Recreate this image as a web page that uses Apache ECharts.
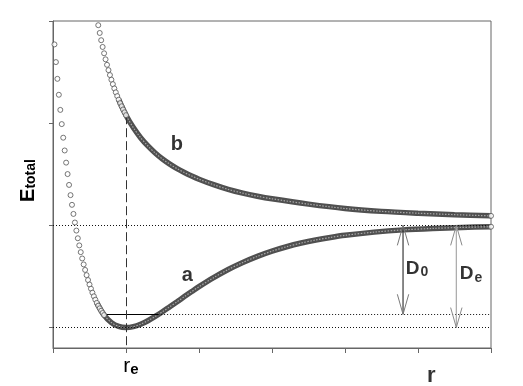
<!DOCTYPE html>
<html><head><meta charset="utf-8">
<script src="https://cdn.jsdelivr.net/npm/echarts@6/dist/echarts.min.js"></script>
<style>html,body{margin:0;padding:0;background:#fff}#c{width:523px;height:386px}</style>
</head><body><div id="c"></div>
<script>
// ---- data (x: r in tick units, y: energy, min = 0, De = 1) ----
const xTicks = [0, 1, 2, 3, 4, 5, 6];
const yTicks = [0, 1, 2, 3];

// curve a (bound state) – separated markers on the steep inner wall
const aRingR = [0.02,0.04,0.06,0.08,0.10,0.12,0.14,0.16,0.18,0.20,0.22,0.24,0.26,0.28,0.30,0.32,0.34,0.36,0.38,0.40,0.42,0.44,0.46,0.48,0.50,0.52,0.54,0.56,0.58,0.60,0.62,0.64,0.66,0.68,0.70,6.00];
const aRingV = [2.771,2.598,2.434,2.278,2.130,1.991,1.858,1.733,1.614,1.502,1.396,1.296,1.201,1.112,1.028,0.949,0.874,0.804,0.738,0.676,0.618,0.564,0.513,0.465,0.421,0.380,0.341,0.306,0.273,0.242,0.214,0.188,0.164,0.142,0.122,0.987];
// curve a – dense part
const aBandR = [0.60,0.70,0.80,0.90,1.00,1.10,1.20,1.30,1.40,1.50,1.60,1.70,1.80,1.90,2.00,2.20,2.40,2.60,2.80,3.00,3.20,3.40,3.60,3.80,4.00,4.40,4.80,5.20,5.60,6.00];
const aBandV = [0.242,0.122,0.049,0.011,0.000,0.009,0.033,0.067,0.109,0.155,0.204,0.253,0.303,0.352,0.400,0.488,0.568,0.637,0.697,0.748,0.791,0.827,0.857,0.882,0.903,0.934,0.956,0.970,0.980,0.987];

// curve b (repulsive state)
const bRingR = [0.62,0.64,0.66,0.68,0.70,0.72,0.74,0.76,0.78,0.80,0.82,0.84,0.86,0.88,0.90,0.92,0.94,0.96,0.98,1.00,6.00];
const bRingV = [2.959,2.883,2.812,2.746,2.684,2.625,2.571,2.519,2.471,2.425,2.382,2.340,2.302,2.265,2.230,2.196,2.165,2.134,2.106,2.078,1.093];
const bBandR = [0.90,1.00,1.10,1.20,1.30,1.40,1.50,1.60,1.70,1.80,1.90,2.00,2.20,2.40,2.60,2.80,3.00,3.50,4.00,4.50,5.00,5.50,6.00];
const bBandV = [2.230,2.078,1.957,1.858,1.777,1.708,1.649,1.599,1.555,1.517,1.483,1.452,1.398,1.352,1.315,1.285,1.260,1.208,1.165,1.137,1.119,1.105,1.093];

// levels
const De = 1.0;          // dissociation limit
const E0 = 0.13;         // zero-point level
const re = 1;            // equilibrium distance
const groundL = 0.71, groundR = 1.44;   // where the zero-point level meets curve a
const bAtRe = 2.078;

// arrows: [x, top, bottom]
const arrowX = [4.795, 5.525];
const arrowTop = [De, De];
const arrowBottom = [E0, 0];

// annotation texts and anchors (top-left of each text, in data units)
const noteText = ['a', 'b', '{D|D}{s|0}', '{D|D}{s|e}', '{R|r}'];
const noteR = [1.77, 1.62, 4.84, 5.58, 5.13];
const noteV = [0.60, 1.88, 0.66, 0.61, -0.37];

const FONT = 'Liberation Sans, Arial, sans-serif';
const zip = (xs, ys) => xs.map((x, i) => [x, ys[i]]);

const chart = echarts.init(document.getElementById('c'), null, {renderer: 'canvas'});

const ringStyle = {color: '#fff', borderColor: '#555', borderWidth: 1};
const bandSeries = (name, data) => [
  {type: 'line', name, data, smooth: 0.3, symbol: 'none', z: 3,
   lineStyle: {color: '#505050', width: 5.5}, silent: true},
  {type: 'line', name: name + 'c', data, smooth: 0.3, symbol: 'none', z: 4,
   lineStyle: {color: '#a8a8a8', width: 1.2, type: [1.5, 1.5]}, silent: true}
];

const subRich = {
  D: {fontSize: 19, fontWeight: 'bold', fontFamily: FONT, color: '#000', lineHeight: 20, verticalAlign: 'top'},
  s: {fontSize: 14, fontWeight: 'bold', fontFamily: FONT, color: '#000', lineHeight: 14, padding: [12, 0, 0, 1], verticalAlign: 'bottom'},
  R: {fontSize: 22, fontFamily: FONT, color: '#000', lineHeight: 22}
};

const dotted = {color: '#111', width: 1, type: [1, 2]};

const option = {
  animation: false,
  backgroundColor: '#fff',
  grid: {left: 53, right: 32, top: 21, bottom: 38, show: true, borderColor: '#666', borderWidth: 1, backgroundColor: 'transparent'},
  xAxis: {
    type: 'value', min: 0, max: 6, interval: 1,
    axisLine: {show: true, onZero: false, lineStyle: {color: '#666', width: 1}},
    axisTick: {show: true, inside: false, length: 5, lineStyle: {color: '#666'}},
    splitLine: {show: false},
    axisLabel: {
      show: true, margin: 8,
      formatter: v => v === re ? '{r|r}{e|e}' : '',
      rich: {
        r: {fontSize: 21, fontFamily: FONT, color: '#000', lineHeight: 21, verticalAlign: 'top', padding: [0, 0, 0, 10]},
        e: {fontSize: 15, fontWeight: 'bold', fontFamily: FONT, color: '#000', lineHeight: 15, padding: [11, 0, 0, 0], verticalAlign: 'bottom'}
      }
    }
  },
  yAxis: {
    type: 'value', min: -0.2, max: 3.0,
    axisLine: {show: true, onZero: false, lineStyle: {color: '#666', width: 1}},
    axisTick: {show: true, inside: false, length: 4, customValues: yTicks, lineStyle: {color: '#666'}},
    axisLabel: {show: false},
    splitLine: {show: false},
    name: '{E|E}{t|total}', nameLocation: 'middle', nameRotate: 90, nameGap: 15,
    nameTextStyle: {
      padding: [0, 0, 0, 8],
      rich: {
        E: {fontSize: 20, fontWeight: 'bold', fontFamily: FONT, color: '#000', lineHeight: 20, verticalAlign: 'top'},
        t: {fontSize: 14, fontWeight: 'bold', fontFamily: FONT, color: '#000', lineHeight: 14, padding: [10, 0, 0, 0], verticalAlign: 'bottom'}
      }
    }
  },
  series: [
    ...bandSeries('a', zip(aBandR, aBandV)),
    ...bandSeries('b', zip(bBandR, bBandV)),
    {type: 'scatter', name: 'aRings', data: zip(aRingR, aRingV), symbol: 'circle', symbolSize: 5, itemStyle: ringStyle, z: 5, silent: true, clip: false},
    {type: 'scatter', name: 'bRings', data: zip(bRingR, bRingV), symbol: 'circle', symbolSize: 5, itemStyle: ringStyle, z: 5, silent: true, clip: false},
    {
      type: 'custom', name: 'arrows', z: 6, silent: true,
      data: arrowX.map((x, i) => [x, arrowTop[i], arrowBottom[i]]),
      renderItem: (params, api) => {
        const x = api.value(0);
        const p1 = api.coord([x, api.value(1)]);
        const p2 = api.coord([x, api.value(2)]);
        const shaft = params.dataIndex === 0 ? '#3a3a3a' : '#a8a8a8';
        const head = params.dataIndex === 0 ? '#7a7a7a' : '#8a8a8a';
        const hl = 20, hw = 5.7;
        return {type: 'group', children: [
          {type: 'line', shape: {x1: p1[0], y1: p1[1], x2: p2[0], y2: p2[1]}, style: {stroke: shaft, lineWidth: 1.2}},
          {type: 'polyline', shape: {points: [[p1[0] - hw, p1[1] + hl], [p1[0], p1[1]], [p1[0] + hw, p1[1] + hl]]}, style: {stroke: head, lineWidth: 1, fill: null}},
          {type: 'polyline', shape: {points: [[p2[0] - hw, p2[1] - hl], [p2[0], p2[1]], [p2[0] + hw, p2[1] - hl]]}, style: {stroke: head, lineWidth: 1, fill: null}}
        ]};
      },
      markLine: {
        silent: true, symbol: ['none', 'none'], label: {show: false}, animation: false,
        lineStyle: dotted,
        data: [
          [{coord: [0, De], lineStyle: dotted}, {coord: [6, De]}],
          [{coord: [0, 0], lineStyle: dotted}, {coord: [6, 0]}],
          [{coord: [groundR, E0], lineStyle: dotted}, {coord: [6, E0]}],
          [{coord: [groundL, E0], lineStyle: {type: 'solid', color: '#000', width: 1}}, {coord: [groundR, E0]}],
          [{coord: [re, bAtRe], lineStyle: {type: [9, 4], color: '#333', width: 1}}, {coord: [re, -0.2]}]
        ]
      }
    },
    {
      type: 'scatter', name: 'notes', symbol: 'circle', symbolSize: 1, z: 7, silent: true, clip: false,
      itemStyle: {color: 'rgba(0,0,0,0)'},
      data: noteText.map((t, i) => ({value: [noteR[i], noteV[i]], label: {show: true, formatter: t}})),
      label: {
        show: true, position: [0, 0], align: 'left', verticalAlign: 'top',
        fontSize: 20, fontWeight: 'bold', fontFamily: FONT, color: '#000',
        rich: subRich
      }
    }
  ]
};
chart.setOption(option);
</script>
</body></html>
